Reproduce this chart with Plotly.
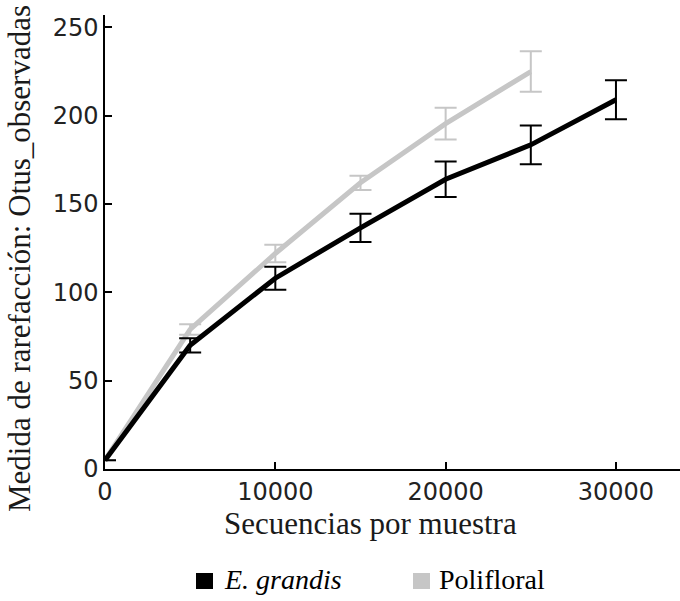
import plotly.graph_objects as go

# Data
x_eg = [0, 5000, 10000, 15000, 20000, 25000, 30000]
y_eg = [5, 70, 108, 136.5, 164, 183.5, 209]
e_eg = [0, 4, 6.5, 8, 10, 11, 11]

x_pf = [0, 5000, 10000, 15000, 20000, 25000]
y_pf = [5, 79, 122, 162, 195.5, 225]
e_pf = [0, 3, 5, 4, 9, 11.5]

x_ticks = [0, 10000, 20000, 30000]
y_ticks = [0, 50, 100, 150, 200, 250]

series_names = ["<i>E. grandis</i>", "Polifloral"]

BLACK = "#000000"
GREY = "#c6c6c6"
series_colors = [BLACK, GREY]

fig = go.Figure()
fig.add_trace(go.Scatter(
    x=x_pf, y=y_pf, mode="lines", line=dict(color=GREY, width=5), name="Polifloral",
    error_y=dict(type="data", array=e_pf, color=GREY, thickness=2, width=11),
    showlegend=False))
fig.add_trace(go.Scatter(
    x=x_eg, y=y_eg, mode="lines", line=dict(color=BLACK, width=5), name="E. grandis",
    error_y=dict(type="data", array=e_eg, color=BLACK, thickness=2, width=11),
    showlegend=False))

serif = "Liberation Serif"
sans = "DejaVu Sans"

PL, PR, PT, PB = 105, 680, 15, 469
W = PR - PL
H = PB - PT


def px_x(p):
    return (p - PL) / W


def px_y(p):
    return (PB - p) / H


# manual legend (square swatch + text)
shapes = []
annotations = []
legend_swatch_x = [196, 413]
legend_text_x = [222, 437]
LEG_Y = 581
for name, col, sx, tx in zip(series_names, series_colors, legend_swatch_x, legend_text_x):
    shapes.append(dict(type="rect", xref="paper", yref="paper",
                       x0=px_x(sx), x1=px_x(sx + 17), y0=px_y(LEG_Y + 8), y1=px_y(LEG_Y - 8),
                       fillcolor=col, line=dict(width=0)))
    annotations.append(dict(text=name, xref="paper", yref="paper", x=px_x(tx), y=px_y(LEG_Y - 2),
                            xanchor="left", yanchor="middle", showarrow=False,
                            font=dict(family=serif, size=28, color="black")))

annotations += [
    dict(text="Secuencias por muestra", xref="paper", yref="paper",
         x=px_x(370), y=px_y(523), xanchor="center", yanchor="middle",
         showarrow=False, font=dict(family=serif, size=31, color="#1a1a1a")),
    dict(text="Medida de rarefacción: Otus_observadas", xref="paper", yref="paper",
         x=px_x(19), y=px_y(259), xanchor="center", yanchor="middle",
         textangle=-90, showarrow=False, font=dict(family=serif, size=31, color="#1a1a1a")),
]

fig.update_layout(
    width=680, height=601,
    margin=dict(l=PL, r=680 - PR, t=PT, b=601 - PB, autoexpand=False),
    plot_bgcolor="white", paper_bgcolor="white",
    showlegend=False,
    xaxis=dict(range=[0, 33760], tickvals=x_ticks, ticktext=[str(v) for v in x_ticks],
               showgrid=False, zeroline=False, showline=True, linecolor="black", linewidth=1.5,
               ticks="inside", ticklen=7, tickcolor="black", tickwidth=1.5, automargin=False,
               tickfont=dict(family=sans, size=24, color="#222222")),
    yaxis=dict(range=[0, 257], tickvals=y_ticks, ticktext=[str(v) for v in y_ticks],
               showgrid=False, zeroline=False, showline=True, linecolor="black", linewidth=1.5,
               ticks="inside", ticklen=7, tickcolor="black", tickwidth=1.5, automargin=False,
               tickfont=dict(family=sans, size=24, color="#222222")),
    shapes=shapes,
    annotations=annotations,
)

fig.write_html("out.html")
